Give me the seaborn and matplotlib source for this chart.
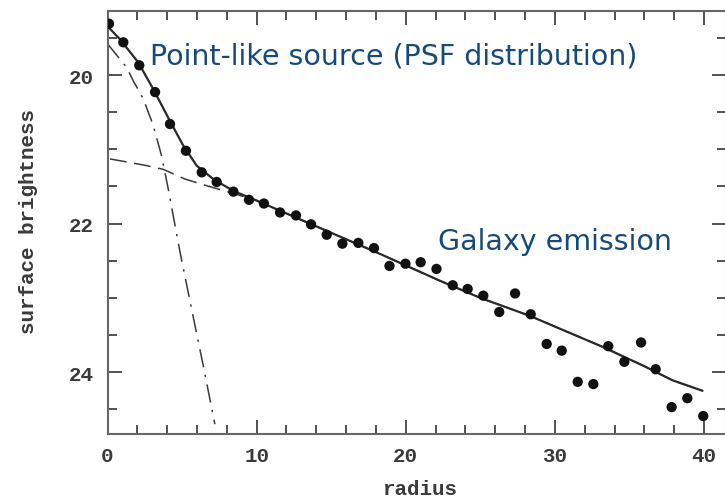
import matplotlib
matplotlib.use("Agg")
import matplotlib.pyplot as plt
import seaborn as sns
import pandas as pd
from matplotlib.ticker import MultipleLocator

# ---- data ----
radius = [0.10, 1.06, 2.13, 3.19, 4.19, 5.26, 6.32, 7.32, 8.44, 9.49,
          10.49, 11.57, 12.64, 13.65, 14.70, 15.75, 16.82, 17.87, 18.91, 19.98,
          21.00, 22.06, 23.15, 24.15, 25.20, 26.27, 27.33, 28.38, 29.45, 30.46,
          31.53, 32.58, 33.58, 34.66, 35.78, 36.76, 37.83, 38.88, 39.95]
brightness = [19.31, 19.56, 19.87, 20.23, 20.66, 21.02, 21.31, 21.44, 21.57, 21.68,
              21.73, 21.85, 21.89, 22.01, 22.15, 22.27, 22.26, 22.33, 22.57, 22.54,
              22.52, 22.61, 22.83, 22.88, 22.97, 23.19, 22.94, 23.22, 23.62, 23.71,
              24.13, 24.16, 23.65, 23.86, 23.60, 23.96, 24.47, 24.35, 24.59]

total_r = [0.03, 0.84, 2.06, 3.07, 4.19, 5.08, 5.98, 7.09, 8.43, 10.0,
           18.3, 22.3, 25.0, 28.3, 30.4, 33.1, 35.9, 37.9, 39.9]
total_mag = [19.35, 19.52, 19.83, 20.19, 20.62, 20.95, 21.22, 21.40, 21.56, 21.69,
             22.41, 22.77, 23.00, 23.24, 23.42, 23.65, 23.91, 24.11, 24.25]

galaxy_r = [0.17, 1.29, 2.63, 3.74, 5.19, 6.65, 8.21, 10.0,
            18.3, 22.3, 25.0, 28.3, 30.4, 33.1, 35.9, 37.9, 39.9]
galaxy_mag = [21.13, 21.17, 21.22, 21.27, 21.40, 21.49, 21.58, 21.69,
              22.41, 22.77, 23.00, 23.24, 23.42, 23.65, 23.91, 24.11, 24.25]

psf_r = [0.0, 1.29, 1.73, 2.40, 3.07, 3.63, 4.07, 4.86, 5.64, 6.42, 7.20]
psf_mag = [19.58, 19.90, 20.08, 20.32, 20.68, 21.09, 21.53, 22.38, 23.15, 23.91, 24.70]

x_ticks = [0, 10, 20, 30, 40]
y_ticks = [20, 22, 24]
label_psf = "Point-like source (PSF distribution)"
label_gal = "Galaxy emission"

# ---- figure ----
sns.set_theme(style="ticks")
plt.rcParams["font.family"] = ["Liberation Mono", "DejaVu Sans"]

W, H = 725, 502
fig = plt.figure(figsize=(W / 100, H / 100), dpi=100)
fig.patch.set_facecolor("white")
left_px, right_px, top_px, bot_px = 107.5, 726, 12, 435
ax = fig.add_axes([left_px / W, 1 - bot_px / H,
                   (right_px - left_px) / W, (bot_px - top_px) / H])
ax.set_facecolor("white")

pts = pd.DataFrame({"radius": radius, "mag": brightness})
tot = pd.DataFrame({"radius": total_r, "mag": total_mag})
gal = pd.DataFrame({"radius": galaxy_r, "mag": galaxy_mag})
psf = pd.DataFrame({"radius": psf_r, "mag": psf_mag})

line_col = "#2a2a2a"
sns.lineplot(data=gal, x="radius", y="mag", ax=ax, sort=False, estimator=None,
             color="#3a3a3a", lw=1.1, linestyle=(0, (11, 5)))
sns.lineplot(data=psf, x="radius", y="mag", ax=ax, sort=False, estimator=None,
             color="#3a3a3a", lw=1.1, linestyle=(0, (12, 5, 1.5, 5)))
sns.lineplot(data=tot, x="radius", y="mag", ax=ax, sort=False, estimator=None,
             color=line_col, lw=1.6)
sns.scatterplot(data=pts, x="radius", y="mag", ax=ax, color="#111111",
                s=55, marker="o", edgecolor="none", zorder=5)

ax.set_xlim(0, (right_px - left_px) / 14.9125)
ymin_val = 20 + (bot_px - 76) / 74.3
ymax_val = 20 - (76 - top_px) / 74.3
ax.set_ylim(ymin_val, ymax_val)

ax.set_xticks(x_ticks)
ax.set_xticklabels([str(v) for v in x_ticks])
ax.set_yticks(y_ticks)
ax.set_yticklabels([str(v) for v in y_ticks])
ax.xaxis.set_minor_locator(MultipleLocator(2))
ax.yaxis.set_minor_locator(MultipleLocator(0.5))

ax.tick_params(which="both", direction="in", top=True, right=True,
               color="#333333", width=1.2)
ax.tick_params(which="major", length=10)
ax.tick_params(which="minor", length=6.5)
ax.tick_params(axis="x", which="major", pad=9, labelsize=15, labelcolor="#3a3a3a")
ax.tick_params(axis="y", which="major", pad=10, labelsize=15, labelcolor="#3a3a3a")
for lab in ax.get_xticklabels() + ax.get_yticklabels():
    lab.set_fontweight("bold")

for sp in ax.spines.values():
    sp.set_color("#666666")
    sp.set_linewidth(1.5)

ax.set_xlabel("radius", fontsize=15, color="#3a3a3a", va="baseline",
              fontweight="bold")
ax.xaxis.set_label_coords((420 - left_px) / (right_px - left_px),
                          (bot_px - 495) / (bot_px - top_px))
ax.set_ylabel("surface brightness", fontsize=15, color="#3a3a3a", va="center",
              fontweight="bold")
ax.yaxis.set_label_coords((28 - left_px) / (right_px - left_px),
                          (bot_px - 222) / (bot_px - top_px))

txt_col = "#174a7c"
fig.text(150 / W, 1 - 65 / H, label_psf, fontsize=20.5, color=txt_col,
         family="DejaVu Sans", ha="left", va="baseline")
fig.text(438 / W, 1 - 250 / H, label_gal, fontsize=20.5, color=txt_col,
         family="DejaVu Sans", ha="left", va="baseline")

fig.savefig("out.png", dpi=100, facecolor="white")
